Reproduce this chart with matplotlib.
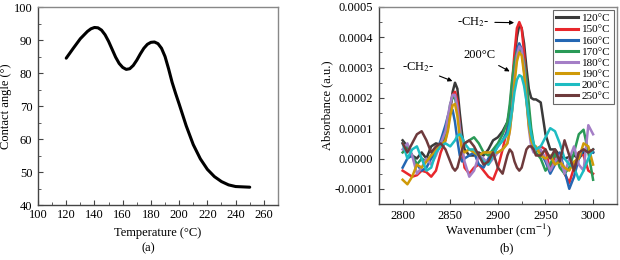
import numpy as np
import matplotlib
matplotlib.use("Agg")
import matplotlib.pyplot as plt
from matplotlib.ticker import MultipleLocator, FuncFormatter

plt.rcParams["font.family"] = ["Liberation Serif", "DejaVu Serif"]
plt.rcParams["mathtext.fontset"] = "stix"
plt.rcParams["font.size"] = 9

# ---------------------------------------------------------------------------
# (a) contact angle vs temperature
# ---------------------------------------------------------------------------
temp_c = [120, 125, 130, 135, 137.5, 140, 142.5, 145, 147.5, 150, 152.5, 155,
          157.5, 160, 162.5, 165, 167.5, 170, 172.5, 175, 177.5, 180, 182.5,
          185, 187.5, 190, 192.5, 195, 197.5, 200, 202.5, 205, 210, 215, 220,
          225, 230, 235, 240, 245, 250]
contact_angle = [84.5, 87.5, 90.4, 92.6, 93.4, 93.8, 93.7, 93.0, 91.6, 89.6,
                 87.2, 84.8, 82.9, 81.7, 81.1, 81.3, 82.3, 83.9, 85.8, 87.5,
                 88.7, 89.3, 89.4, 88.9, 87.5, 85.0, 81.3, 77.2, 73.8, 70.6,
                 67.3, 64.0, 58.3, 54.0, 50.8, 48.6, 47.1, 46.1, 45.6, 45.5,
                 45.4]

# ---------------------------------------------------------------------------
# (b) FTIR spectra, absorbance in units of 1e-4
# ---------------------------------------------------------------------------
wavenumber = [2800, 2805, 2810, 2815, 2820, 2825, 2830, 2835, 2840,
              2845, 2847.5, 2850, 2852.5, 2855, 2857.5, 2860, 2862.5, 2865,
              2870, 2875, 2880, 2885, 2890, 2895, 2900, 2905,
              2910, 2912.5, 2915, 2917.5, 2920, 2922.5, 2925, 2927.5, 2930,
              2932.5, 2935, 2937.5, 2940,
              2945, 2950, 2955, 2960, 2965, 2970, 2975, 2980, 2985, 2990,
              2995, 3000]

abs_120 = [0.6, 0.4, 0.1, 0.0, 0.2, 0.0, 0.4, 0.5, 0.45,
           0.7, 1.0, 1.6, 2.2, 2.5, 2.3, 1.5, 0.8, 0.3,
           0.1, 0.1, 0.2, 0.1, 0.3, 0.6, 0.7, 0.9,
           1.2, 1.6, 2.3, 3.2, 4.0, 4.4, 4.3, 3.8, 3.0, 2.3, 2.0, 1.95, 1.95,
           1.85, 0.8, 0.3, 0.3, 0.1, 0.0, 0.05, 0.1, 0.0, 0.2, 0.3, 0.2]
abs_150 = [-0.4, -0.5, -0.6, -0.55, -0.4, -0.45, -0.6, -0.4, 0.2,
           0.6, 1.1, 1.7, 2.1, 2.2, 1.9, 1.1, 0.3, -0.3,
           -0.5, -0.3, -0.2, -0.4, -0.6, -0.7, -0.3, 0.3,
           1.0, 1.6, 2.5, 3.5, 4.3, 4.5, 4.3, 3.5, 2.5, 1.5, 0.8, 0.4, 0.3,
           0.4, 0.3, -0.4, 0.1, 0.0, -0.5, -0.8, -0.3, 0.2, 0.1, -0.4, -0.5]
abs_160 = [-0.3, 0.0, 0.1, -0.2, -0.4, -0.3, 0.0, 0.2, 0.6,
           1.1, 1.4, 1.6, 1.6, 1.2, 0.6, 0.1, -0.1, 0.0,
           0.1, 0.2, -0.2, -0.3, 0.0, 0.2, 0.4, 0.6,
           0.9, 1.4, 2.2, 3.0, 3.6, 3.8, 3.6, 2.9, 2.0, 1.2, 0.6, 0.3, 0.3,
           0.2, -0.1, -0.5, -0.2, 0.2, -0.4, -1.0, -0.6, 0.0, 0.3, 0.2, 0.2]
abs_170 = [0.2, 0.4, 0.1, -0.2, 0.0, -0.1, 0.1, 0.3, 0.5,
           0.8, 1.3, 1.8, 2.0, 2.0, 1.6, 1.0, 0.6, 0.5,
           0.6, 0.7, 0.5, 0.2, 0.1, 0.3, 0.5, 0.8,
           1.2, 1.8, 2.6, 3.2, 3.5, 3.6, 3.5, 3.2, 2.6, 1.8, 1.0, 0.5, 0.2,
           0.0, -0.4, -0.2, 0.2, -0.3, -0.5, -0.3, 0.2, 0.8, 0.95, 0.2, -0.7]
abs_180 = [0.3, 0.5, 0.1, -0.5, -0.3, 0.0, -0.2, 0.1, 0.5,
           0.9, 1.4, 1.8, 2.1, 2.1, 1.7, 1.0, 0.4, -0.1,
           -0.6, -0.4, 0.1, 0.0, -0.2, 0.0, 0.2, 0.3,
           0.5, 0.9, 1.6, 2.6, 3.4, 3.7, 3.6, 3.0, 2.0, 1.0, 0.4, 0.2, 0.3,
           0.3, 0.0, -0.4, -0.1, 0.1, -0.5, 0.0, 0.4, -0.2, -0.4, 1.1, 0.8]
abs_190 = [-0.7, -0.85, -0.6, -0.2, -0.3, -0.1, 0.1, 0.3, 0.4,
           0.6, 0.9, 1.4, 1.75, 1.8, 1.4, 0.7, 0.3, 0.2,
           0.3, 0.2, 0.1, 0.2, 0.2, 0.2, 0.2, 0.3,
           0.5, 0.9, 1.6, 2.5, 3.2, 3.5, 3.4, 2.8, 1.9, 1.1, 0.6, 0.4, 0.4,
           0.1, 0.0, 0.1, -0.2, -0.1, -0.3, -0.4, -0.1, 0.0, 0.5, 0.4, -0.2]
abs_200 = [0.5, 0.0, 0.3, 0.4, 0.0, -0.4, -0.3, 0.2, 0.4,
           0.5, 0.45, 0.4, 0.5, 0.6, 0.75, 0.8, 0.7, 0.5,
           0.3, 0.3, 0.1, -0.1, -0.2, 0.1, 0.4, 0.6,
           0.8, 1.1, 1.6, 2.2, 2.6, 2.75, 2.7, 2.4, 1.9, 1.3, 0.8, 0.5, 0.3,
           0.4, 0.7, 1.0, 0.9, 0.5, 0.0, -0.2, -0.3, -0.7, -0.4, 0.0, 0.3]
abs_250 = [0.5, 0.2, 0.5, 0.8, 0.9, 0.6, 0.2, 0.4, 0.5,
           0.3, 0.1, -0.1, -0.3, -0.4, -0.3, 0.0, 0.3, 0.5,
           0.6, 0.4, 0.1, -0.2, -0.1, 0.2, -0.3, -0.5,
           0.1, 0.3, 0.2, -0.1, -0.3, -0.4, -0.3, 0.0, 0.3, 0.4, 0.4, 0.3, 0.1,
           0.1, 0.3, 0.0, 0.3, -0.1, 0.6, 0.1, -0.4, 0.2, 0.3, 0.2, 0.3]

series_labels = ["120°C", "150°C", "160°C", "170°C",
                 "180°C", "190°C", "200°C", "250°C"]
series_values = [abs_120, abs_150, abs_160, abs_170,
                 abs_180, abs_190, abs_200, abs_250]
series_colors = ["#3a3a3a", "#e8272c", "#2467b3", "#2a9a57",
                 "#a47ec6", "#cf9a08", "#1ebcc2", "#6e3a3c"]

SPINE = "#444444"


def style_axes(ax, pad_x):
    for s in ax.spines.values():
        s.set_color(SPINE)
        s.set_linewidth(1.0)
    ax.spines["top"].set_color("#888888")
    ax.spines["right"].set_color("#888888")
    ax.tick_params(which="both", direction="in", color=SPINE,
                   top=False, right=False, labelsize=9)
    ax.tick_params(axis="x", pad=pad_x)
    ax.tick_params(axis="y", pad=4)
    ax.tick_params(which="major", length=3.5)
    ax.tick_params(which="minor", length=2)


fig = plt.figure(figsize=(6.2, 2.6), dpi=100)

# ── panel (a) ───────────────────────────────────────────────────────────────
ax1 = fig.add_axes([0.0613, 0.2115, 0.387, 0.7615])
ax1.plot(temp_c, contact_angle, color="black", lw=2.2, solid_capstyle="round",
         solid_joinstyle="round")
ax1.set_xlim(100, 270)
ax1.set_ylim(40, 100)
ax1.xaxis.set_major_locator(MultipleLocator(20))
ax1.xaxis.set_minor_locator(MultipleLocator(10))
ax1.yaxis.set_major_locator(MultipleLocator(10))
ax1.yaxis.set_minor_locator(MultipleLocator(5))
ax1.set_xlabel("Temperature (°C)", labelpad=4)
ax1.set_ylabel("Contact angle (°)", labelpad=1)
style_axes(ax1, 3)
# the bottom "40" sits on the axis line so it clears the "100" below it
ax1.yaxis.get_major_ticks()[0].label1.set_verticalalignment("bottom")

# ── panel (b) ───────────────────────────────────────────────────────────────
ax2 = fig.add_axes([0.611, 0.2154, 0.384, 0.758])
for lab, vals, col in zip(series_labels, series_values, series_colors):
    ax2.plot(wavenumber, np.array(vals) * 1e-4, color=col, lw=1.8, label=lab,
             solid_joinstyle="round")
ax2.set_xlim(2775, 3025)
ax2.set_ylim(-0.00015, 0.0005)
ax2.xaxis.set_major_locator(MultipleLocator(50))
ax2.xaxis.set_minor_locator(MultipleLocator(25))
ax2.yaxis.set_major_locator(MultipleLocator(0.0001))
ax2.yaxis.set_minor_locator(MultipleLocator(0.00005))
ax2.yaxis.set_major_formatter(FuncFormatter(lambda v, p: f"{v:.4f}".replace("-0.0000", "0.0000")))
ax2.set_xlabel("Wavenumber (cm$^{-1}$)", labelpad=0)
ax2.set_ylabel("Absorbance (a.u.)", labelpad=1)
style_axes(ax2, 4)

arrow = dict(arrowstyle="-|>", color="black", lw=0.8, mutation_scale=6)
ax2.annotate("-CH$_2$-", xy=(2855, 0.000252), xytext=(2816, 0.000300),
             ha="center", va="center", fontsize=9, arrowprops=arrow)
ax2.annotate("-CH$_2$-", xy=(2920, 0.000448), xytext=(2874, 0.000450),
             ha="center", va="center", fontsize=9, arrowprops=arrow)
ax2.annotate("200°C", xy=(2915, 0.000283), xytext=(2881, 0.000340),
             ha="center", va="center", fontsize=9, arrowprops=arrow)

leg = ax2.legend(loc="upper right", fontsize=8, frameon=True, fancybox=False,
                 edgecolor=SPINE, handlelength=2.0, handletextpad=0.3,
                 labelspacing=0.12, borderpad=0.3, borderaxespad=0.3)
leg.get_frame().set_linewidth(0.8)
for ln in leg.get_lines():
    ln.set_linewidth(2.2)

fig.text(148 / 620, 1 - 248 / 260, "(a)", ha="center", va="center", fontsize=9)
fig.text(507 / 620, 1 - 248 / 260, "(b)", ha="center", va="center", fontsize=9)

fig.savefig("out.png", dpi=100)
